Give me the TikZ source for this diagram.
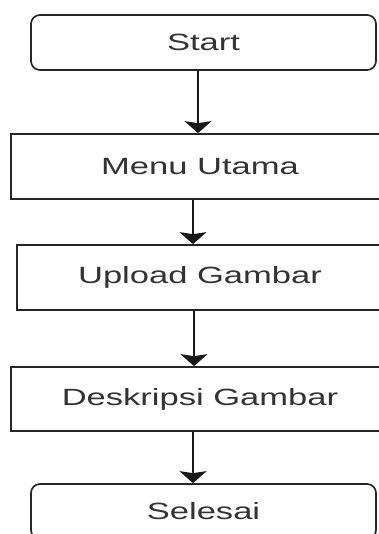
\documentclass[tikz,border=0pt]{standalone}
\usepackage{fontspec}
% the screenshot shows Arial-like text that is stretched sideways
\setmainfont{Liberation Sans}[FakeStretch=1.47]
\usetikzlibrary{arrows.meta}

\tikzset{
    flowbox/.style={draw=black!85, line width=1.7pt, fill=white, text=black!80,
        font=\fontsize{23.5}{28}\selectfont, inner sep=0pt, minimum height=65pt},
    terminal/.style={flowbox, rounded corners=9pt, minimum width=345pt, minimum height=55pt},
    process/.style={flowbox, minimum width=378pt},
    flowarrow/.style={draw=black!90, line width=1.7pt,
        -{Stealth[length=12pt, width=27pt, inset=2pt]}}
}

\begin{document}
\begin{tikzpicture}[x=1pt, y=-1pt]
    % one unit is one pixel of the 379 x 534 screenshot
    \useasboundingbox (0,0) rectangle (379,534);
    \clip (0,0) rectangle (379,534);

    % the steps, top to bottom
    \node[terminal] (start) at (203.5, 42.5) {Start};
    \node[process] (menu) at (200, 166.5) {Menu Utama};
    \node[process, minimum width=366pt] (upload) at (200, 277.5) {Upload Gambar};
    \node[process, minimum height=64pt] (deskripsi) at (200, 399) {Deskripsi Gambar};
    \node[terminal] (selesai) at (203.5, 511.5) {Selesai};

    % arrows sit a little left of the box centres
    \foreach \from/\to/\dx in {start/menu/-5.5, menu/upload/-7, upload/deskripsi/-6, deskripsi/selesai/-7} {
        \draw[flowarrow] ([xshift=\dx pt]\from.south) -- ([xshift=\dx pt]\from.south |- \to.north);
    }

\end{tikzpicture}
\end{document}
